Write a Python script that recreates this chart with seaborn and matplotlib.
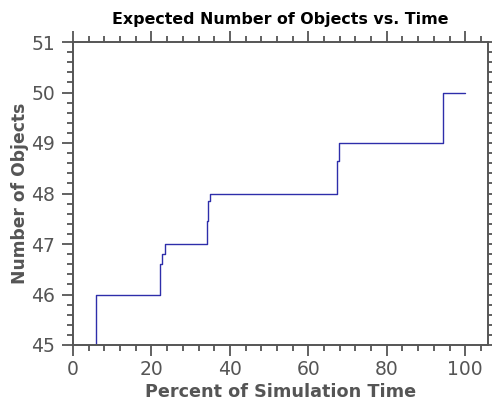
import matplotlib
matplotlib.use("Agg")
import matplotlib.pyplot as plt
import seaborn as sns
import pandas as pd
from matplotlib.ticker import MultipleLocator

# Data (step changes)
time_pct = [5.9, 5.9, 22.3, 22.8, 23.5, 34.1, 34.4, 34.8, 67.4, 67.8, 94.3, 100.0]
n_objects = [45.0, 46.0, 46.6, 46.8, 47.0, 47.45, 47.85, 48.0, 48.65, 49.0, 50.0, 50.0]
x_ticks = [0, 20, 40, 60, 80, 100]
y_ticks = [45, 46, 47, 48, 49, 50, 51]

sns.set_style("ticks")
plt.rcParams['font.family'] = ['DejaVu Sans']

df = pd.DataFrame({"time": time_pct, "objects": n_objects})

fig = plt.figure(figsize=(4.92, 4.07), dpi=100)
ax = fig.add_axes([73/492, 1-345/407, (488-73)/492, (345-42)/407])

sns.lineplot(data=df, x="time", y="objects", ax=ax, estimator=None, sort=False,
             drawstyle="steps-post", color="#2e2eaa", linewidth=1.0)

ax.set_xlim(0, 105.8)
ax.set_ylim(45, 51)
ax.set_xticks(x_ticks)
ax.set_yticks(y_ticks)
ax.xaxis.set_minor_locator(MultipleLocator(4))
ax.yaxis.set_minor_locator(MultipleLocator(0.2))

gray = "#555555"
for s in ax.spines.values():
    s.set_visible(True)
    s.set_color(gray)
    s.set_linewidth(1.4)
ax.tick_params(which="both", direction="out", top=True, right=True,
               color=gray, width=1.3, labelcolor=gray, labelsize=13.5)
ax.tick_params(which="major", length=8)
ax.tick_params(which="minor", length=4.5)
ax.tick_params(axis="x", pad=3)
ax.tick_params(axis="y", pad=5)

ax.set_xlabel("Percent of Simulation Time", fontsize=12.7, fontweight="bold", color=gray, labelpad=3)
ax.set_ylabel("Number of Objects", fontsize=12.3, fontweight="bold", color=gray, labelpad=1.5)
ax.set_title("Expected Number of Objects vs. Time", fontsize=11.4, fontweight="bold", color="black", pad=13)

fig.savefig("out.png", dpi=100)
